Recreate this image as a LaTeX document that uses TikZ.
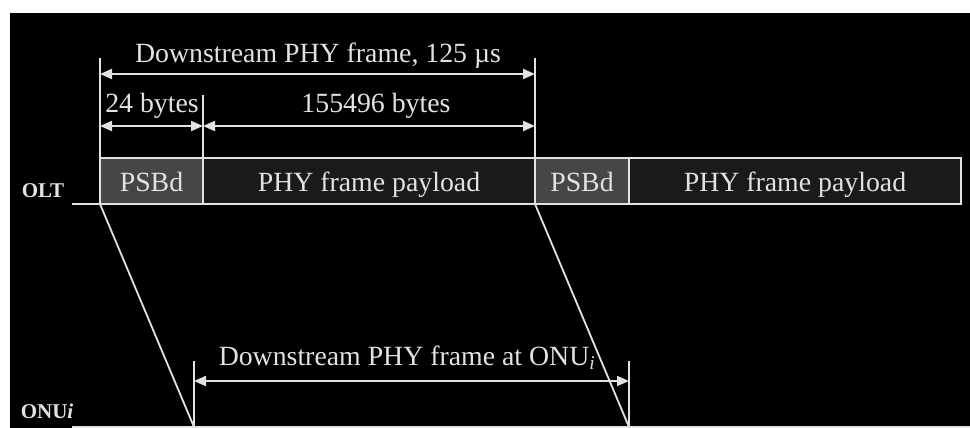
\documentclass[tikz,border=0pt]{standalone}
\usepackage{fontspec}
\setmainfont{Liberation Serif}
\usetikzlibrary{arrows.meta}
\definecolor{ln}{HTML}{E2E2E2}
\definecolor{psbdgray}{HTML}{464646}
\definecolor{paygray}{HTML}{1A1A1A}
\begin{document}
\begin{tikzpicture}[x=1pt,y=-1pt,
  seg/.style={draw=ln, line width=2.2pt, inner sep=0pt, outer sep=0pt, minimum height=46pt,
    anchor=north west, text=ln, text height=20pt, text depth=0pt,
    font=\fontsize{27.8}{30}\selectfont},
  psbd/.style={seg, fill=psbdgray},
  payload/.style={seg, fill=paygray},
  wire/.style={draw=ln, line width=1.8pt},
  dim/.style={draw=ln, line width=2pt, {Triangle[length=12pt,width=10pt]}-{Triangle[length=12pt,width=10pt]}},
  lbl/.style={text=ln, inner sep=0pt, anchor=base, font=\fontsize{27.8}{30}\selectfont},
  side/.style={text=ln, inner sep=0pt, anchor=base, font=\fontsize{21}{24}\selectfont\bfseries}
]
\useasboundingbox (0,0) rectangle (970,428);
\fill[white] (0,0) rectangle (970,428);
\fill[black] (10,13) rectangle (970,428);

% axes
\coordinate (oltL) at (72,204);
\coordinate (oltB) at (100,204);
\coordinate (onuL) at (72,427);
\coordinate (onuR) at (970,427);

% frame segments
\node[psbd, minimum width=103pt] (s1) at (100,158) {PSBd};
\node[payload, minimum width=332pt] (f1) at (203,158) {PHY frame payload};
\node[psbd, minimum width=94pt] (s2) at (535,158) {PSBd};
\node[payload, minimum width=332pt] (f2) at (629,158) {PHY frame payload};

\draw[wire, line width=2.2pt] (oltL) -- (oltB);
\draw[wire, line width=2.2pt] (onuL) -- (onuR);

% top ticks
\coordinate (t1) at (100,58);
\coordinate (t2) at (535,58);
\coordinate (t3) at (203,95);
\draw[wire] (t1) -- (s1.north west);
\draw[wire] (t2) -- (s2.north west);
\draw[wire] (t3) -- (f1.north west);

% dimension arrows top
\coordinate (a1) at (100,74);
\coordinate (a2) at (535,74);
\draw[dim] (a1) -- (a2);
\node[lbl] (lt) at (318,63) {Downstream PHY frame, 125 µs};
\coordinate (b1) at (100,126);
\coordinate (b2) at (203,126);
\coordinate (b3) at (535,126);
\draw[dim] (b1) -- (b2);
\draw[dim] (b2) -- (b3);
\node[lbl] (l24) at (152,113) {24 bytes};
\node[lbl] (l155) at (376,113) {155496 bytes};

% propagation lines
\coordinate (o1) at (194,427);
\coordinate (o2) at (629,427);
\draw[wire] (s1.south west) -- (o1);
\draw[wire] (s2.south west) -- (o2);

% bottom ticks
\coordinate (u1) at (194,361);
\coordinate (u2) at (629,361);
\draw[wire] (u1) -- (o1);
\draw[wire] (u2) -- (o2);
\coordinate (c1) at (194,381);
\coordinate (c2) at (629,381);
\draw[dim] (c1) -- (c2);
\node[lbl] (lb) at (407,365) {Downstream PHY frame at ONU\textsubscript{\itshape i}};

% side labels
\node[side] (olt) at (43,197) {OLT};
\node[side] (onu) at (47,418) {ONU\textit{i}};
\end{tikzpicture}
\end{document}
